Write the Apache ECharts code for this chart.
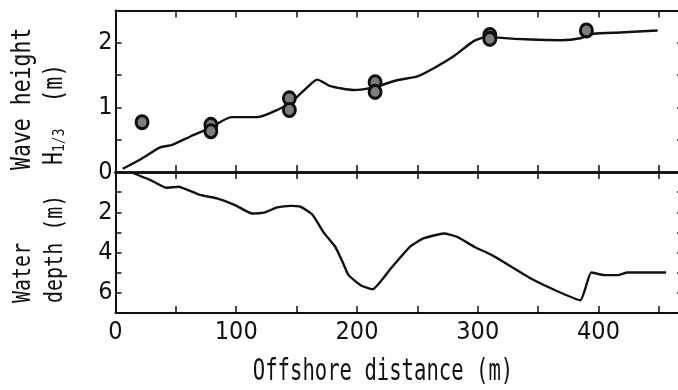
<!DOCTYPE html>
<html>
<head>
<meta charset="utf-8">
<script src="https://cdn.jsdelivr.net/npm/echarts@6/dist/echarts.min.js"></script>
<style>
  html, body { margin: 0; padding: 0; background: #fff; }
  #chart { width: 678px; height: 390px; }
</style>
</head>
<body>
<div id="chart"></div>
<script>
// Tick labels shown on each axis
const distanceTickLabels = [0, 100, 200, 300, 400];
const waveTickLabels = [0, 1, 2];
const depthTickLabels = [2, 4, 6];

// Computed significant wave height along the profile (m)
const waveDist = [6, 22, 37, 47, 62, 78, 96, 118, 134, 146, 161, 167, 178, 197, 214, 233, 250, 264, 280, 297, 309, 317, 344, 369, 385, 396, 418, 449];
const waveHeight = [0.05, 0.21, 0.38, 0.42, 0.55, 0.68, 0.85, 0.85, 0.96, 1.09, 1.35, 1.43, 1.33, 1.27, 1.31, 1.42, 1.48, 1.61, 1.79, 2.03, 2.10, 2.08, 2.05, 2.04, 2.07, 2.14, 2.16, 2.19];

// Measured wave heights (m)
const measuredDist = [22, 79, 79, 144, 144, 215, 215, 310, 310, 390];
const measuredHeight = [0.77, 0.73, 0.63, 1.14, 0.96, 1.39, 1.24, 2.12, 2.06, 2.19];

// Bottom profile: water depth (m)
const depthDist = [12, 29, 42, 52, 70, 84, 99, 113, 123, 134, 145, 153, 163, 172, 182, 188, 193, 203, 213, 228, 244, 255, 272, 283, 297, 311, 319, 344, 366, 385, 394, 405, 416, 424, 456];
const depthValue = [0, 0.40, 0.78, 0.73, 1.14, 1.31, 1.64, 2.06, 2.02, 1.76, 1.68, 1.72, 2.11, 2.97, 3.71, 4.46, 5.12, 5.62, 5.82, 4.79, 3.71, 3.30, 3.05, 3.22, 3.71, 4.10, 4.38, 5.29, 5.92, 6.37, 4.99, 5.12, 5.12, 4.99, 4.99];

const zip = (xs, ys) => xs.map((x, i) => [x, ys[i]]);

const INK = '#111';
const LABEL_FONT = '"Liberation Sans Narrow", "DejaVu Sans Condensed", sans-serif';
const TITLE_FONT = '"DejaVu Sans Mono", monospace';

function distAxis(gridIndex, position, lineWidth, showLabels) {
  return {
    type: 'value', gridIndex, position,
    min: 0, max: 470, interval: 50,
    axisLine: { show: true, onZero: false, lineStyle: { color: INK, width: lineWidth } },
    axisTick: { show: true, inside: true, length: 7, lineStyle: { color: INK, width: 1.5 } },
    axisLabel: {
      show: showLabels, margin: 7, color: INK, fontFamily: LABEL_FONT, fontSize: 25,
      formatter: v => distanceTickLabels.includes(v) ? String(v) : ''
    },
    splitLine: { show: false }
  };
}

function valueAxis(gridIndex, position, max, interval, inverse, labels, showLine) {
  return {
    type: 'value', gridIndex, position, inverse,
    min: 0, max, interval,
    axisLine: { show: showLine, onZero: false, lineStyle: { color: INK, width: 2 } },
    axisTick: { show: true, inside: true, length: 6, lineStyle: { color: INK, width: 1.5 } },
    axisLabel: {
      show: !!labels, margin: 3, color: INK, fontFamily: LABEL_FONT, fontSize: 25,
      formatter: v => (labels && labels.includes(v)) ? String(v) : ''
    },
    splitLine: { show: false }
  };
}

function titleText(text, x, y, size, scaleY) {
  return {
    type: 'text', x, y, rotation: Math.PI / 2, scaleY,
    style: { text, font: size + 'px ' + TITLE_FONT, fill: INK, textAlign: 'left', textVerticalAlign: 'middle' }
  };
}

const chart = echarts.init(document.getElementById('chart'), null, { renderer: 'canvas' });

// The plot frame runs a little past the right edge of the page
chart.setOption({
  animation: false,
  backgroundColor: '#fff',
  grid: [
    { left: 115.5, width: 567.5, top: 10.5, height: 161.5, outerBoundsMode: 'none', containLabel: false },
    { left: 115.5, width: 567.5, top: 172, height: 141, outerBoundsMode: 'none', containLabel: false }
  ],
  xAxis: [
    distAxis(0, 'bottom', 2.5, false),
    distAxis(0, 'top', 1.8, false),
    distAxis(1, 'top', 2.5, false),
    distAxis(1, 'bottom', 2, true)
  ],
  yAxis: [
    valueAxis(0, 'left', 2.5, 0.5, false, waveTickLabels, true),
    valueAxis(0, 'right', 2.5, 0.5, false, null, false),
    valueAxis(1, 'left', 7, 1, true, depthTickLabels, true),
    valueAxis(1, 'right', 7, 1, true, null, false)
  ],
  graphic: [
    titleText('Wave height', 23, 170, 21.5, 1.25),
    titleText('H', 55, 165, 21.5, 1.25),
    titleText('1/3', 60, 152, 13, 1.25),
    titleText('  (m)', 55, 128.5, 21.5, 1.25),
    titleText('Water', 23, 303, 20, 1.25),
    titleText('depth (m)', 55, 303, 20, 1.25),
    {
      type: 'text', x: 383, y: 372, scaleY: 1.42,
      style: { text: 'Offshore distance (m)', font: '20.6px ' + TITLE_FONT, fill: INK, textAlign: 'center', textVerticalAlign: 'middle' }
    }
  ],
  series: [
    {
      type: 'line', xAxisIndex: 0, yAxisIndex: 0,
      data: zip(waveDist, waveHeight),
      showSymbol: false, smooth: 0.2,
      lineStyle: { color: INK, width: 2.4 }
    },
    {
      type: 'scatter', xAxisIndex: 0, yAxisIndex: 0,
      data: zip(measuredDist, measuredHeight),
      symbol: 'circle', symbolSize: [12, 13],
      itemStyle: { color: '#7d7d7d', borderColor: '#0d0d0d', borderWidth: 3, opacity: 1 },
      z: 3
    },
    {
      type: 'line', xAxisIndex: 3, yAxisIndex: 2,
      data: zip(depthDist, depthValue),
      showSymbol: false, smooth: 0.15,
      lineStyle: { color: INK, width: 2.4 }
    }
  ]
});
</script>
</body>
</html>
